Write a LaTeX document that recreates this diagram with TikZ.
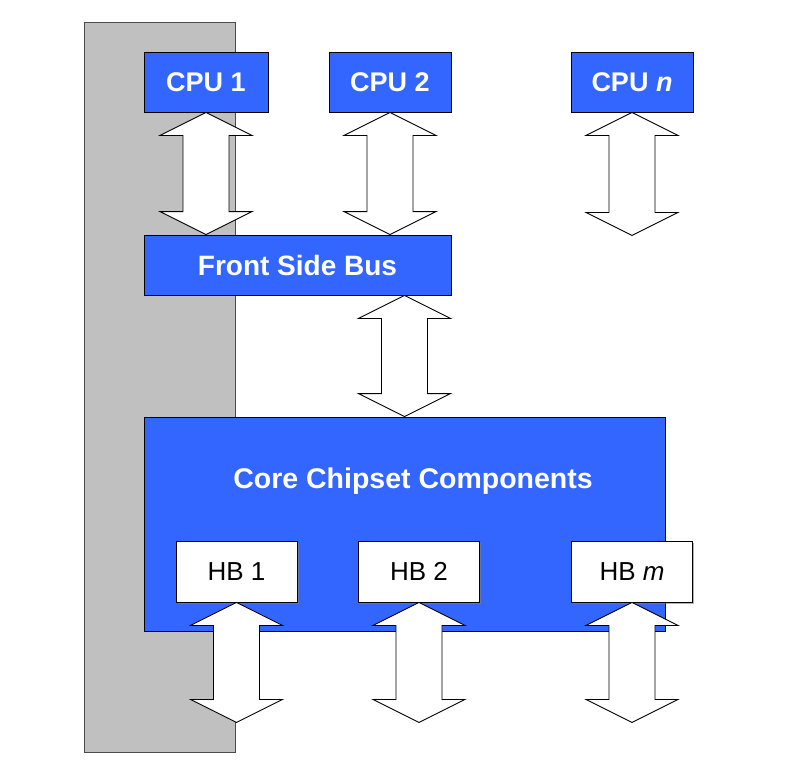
\documentclass[tikz,border=0pt]{standalone}
\usepackage{fontspec}
\setmainfont{Liberation Sans}
\usepackage{tikz}
\usetikzlibrary{calc,shadows}
\definecolor{busblue}{RGB}{51,102,255}
\definecolor{railgray}{RGB}{192,192,192}

% double block arrow from tip #1 down to tip #2
\newcommand{\bidir}[2]{%
  \filldraw[draw=black,fill=white,line width=0.9pt,line join=miter] let \p1=(#1), \p2=(#2) in
    (\x1,\y1) -- (\x1+46pt,\y1-23pt) -- (\x1+23pt,\y1-23pt)
    -- (\x1+23pt,\y2+23pt) -- (\x1+46pt,\y2+23pt) -- (\x1,\y2)
    -- (\x1-46pt,\y2+23pt) -- (\x1-23pt,\y2+23pt)
    -- (\x1-23pt,\y1-23pt) -- (\x1-46pt,\y1-23pt) -- cycle;}

\tikzset{
  bluebox/.style={draw=black,fill=busblue,text=white,inner sep=0pt,line width=0.9pt,
    font=\fontsize{27}{32}\selectfont\bfseries},
  biglabel/.style={text=white,inner sep=0pt,
    font=\fontsize{28.5}{34}\selectfont\bfseries},
  hbbox/.style={draw=black,fill=white,inner sep=0pt,line width=0.9pt,
    minimum width=121pt,minimum height=61pt,
    font=\fontsize{26}{31}\selectfont,
    drop shadow={shadow xshift=1.5pt,shadow yshift=-1.5pt,fill=gray,opacity=.6}}
}

\begin{document}
\begin{tikzpicture}[x=1pt,y=-1pt]
\useasboundingbox (0,0) rectangle (793,776);
% Rail
\filldraw[draw=black!70,fill=railgray,line width=0.9pt] (84,22) rectangle (235,752);
% CPUs
\node[bluebox,minimum width=124pt,minimum height=60pt] (cpu1) at (206,82) {CPU 1};
\node[bluebox,minimum width=122pt,minimum height=60pt] (cpu2) at (390,82) {CPU 2};
\node[bluebox,minimum width=122pt,minimum height=60pt] (cpun) at (632,82) {CPU \textit{n}};
% Bus
\node[bluebox,minimum width=307pt,minimum height=60pt,
  font=\fontsize{28}{33}\selectfont\bfseries] (fsb) at (297.5,265) {Front Side Bus};
% Chipset
\node[bluebox,minimum width=521pt,minimum height=214pt] (core) at (404.5,524) {};
\node[biglabel] (corelabel) at (413,481) {Core Chipset Components};
\node[hbbox] (hb1) at (236.5,571.5) {HB 1};
\node[hbbox] (hb2) at (419,571.5) {HB 2};
\node[hbbox] (hbm) at (632,571.5) {HB \textit{m}};
% Free ends
\coordinate (cpunend) at ($(cpun.south)+(0,123)$);
\coordinate (busport) at ($(fsb.south east)+(-47,0)$);
\coordinate (hb1end) at ($(hb1.south)+(0,120)$);
\coordinate (hb2end) at ($(hb2.south)+(0,120)$);
\coordinate (hbmend) at ($(hbm.south)+(0,120)$);
% Arrows
\bidir{cpu1.south}{cpu1.south |- fsb.north}
\bidir{cpu2.south}{cpu2.south |- fsb.north}
\bidir{cpun.south}{cpunend}
\bidir{busport}{busport |- core.north}
\bidir{hb1.south}{hb1end}
\bidir{hb2.south}{hb2end}
\bidir{hbm.south}{hbmend}
\end{tikzpicture}
\end{document}
